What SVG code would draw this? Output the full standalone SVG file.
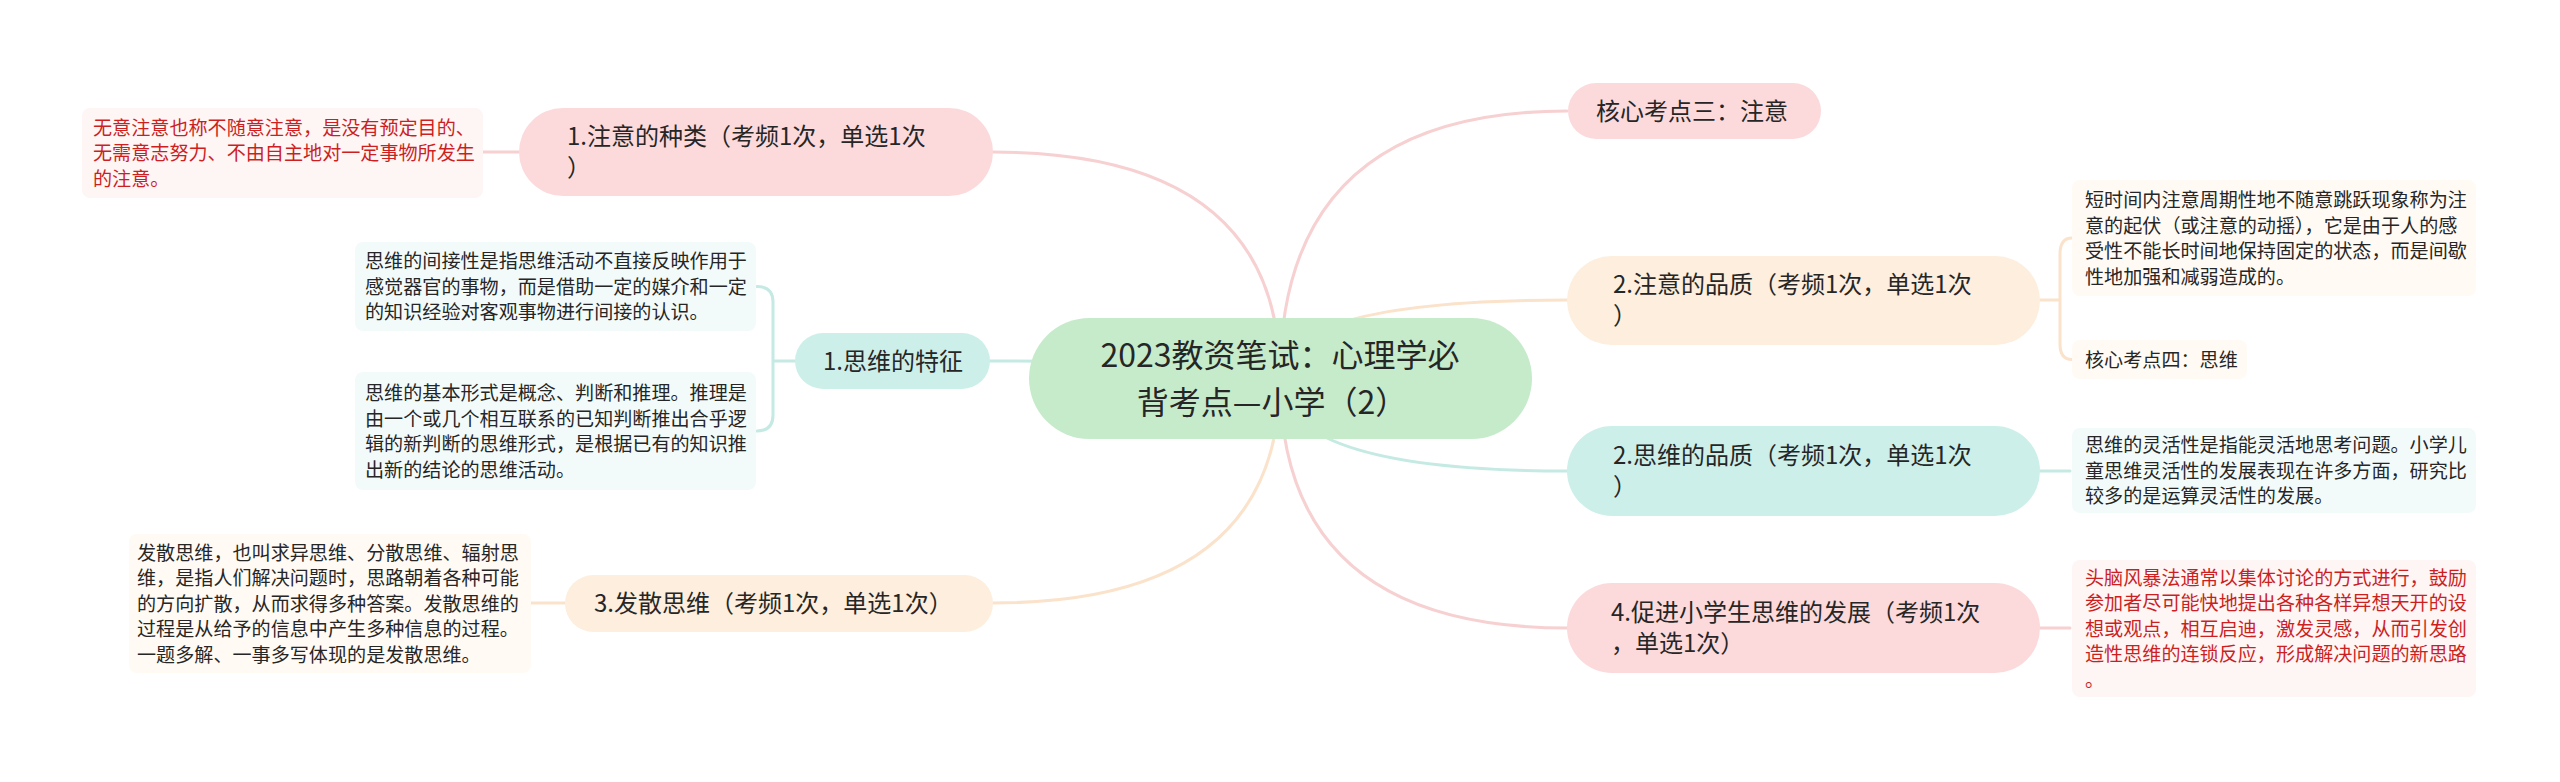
<svg xmlns="http://www.w3.org/2000/svg" width="2560" height="782" viewBox="0 0 2560 782">
<style>
.c{fill:none;stroke-width:3;stroke-linecap:round}
.pk{stroke:#f7d0d1}.tl{stroke:#c4eae3}.pc{stroke:#fbe2cb}
.t{font-family:"Noto Sans CJK SC","Noto Sans",sans-serif;fill:#262626}
.pill{font-size:24px}
.leaf{font-size:19.1px}
.red{fill:#cc1f1f}
.main{font-size:32px}
</style>
<rect width="2560" height="782" fill="#ffffff"/>
<g id="connectors">
<path class="c pk" d="M1280 378 Q1280 152 993 152"/>
<path class="c tl" d="M1280 378 Q1280 361 990 361"/>
<path class="c pc" d="M1280 378 Q1280 603 993 603"/>
<path class="c pk" d="M1280 378 Q1280 111 1567 111"/>
<path class="c pc" d="M1280 378 Q1280 300 1567 300"/>
<path class="c tl" d="M1280 378 Q1280 471 1567 471"/>
<path class="c pk" d="M1280 378 Q1280 628 1567 628"/>
<path class="c pk" d="M519 152 H483"/>
<path class="c tl" d="M795 361 H773 M773 361 V302 Q773 286.5 757 286.5 M773 361 V415 Q773 431 757 431"/>
<path class="c pc" d="M565 603 H531"/>
<path class="c pc" d="M2039 300 H2060 M2060 300 V254 Q2060 238 2072 238 M2060 300 V344 Q2060 359.5 2072 359.5"/>
<path class="c tl" d="M2039 471 H2070"/>
<path class="c pk" d="M2039 628 H2070"/>
</g>
<g id="center">
<rect x="1029" y="318" width="503" height="121" rx="60.5" fill="#c6ebcb"/>
<text class="t main" x="1280" y="367" text-anchor="middle">2023教资笔试：心理学必</text>
<text class="t main" x="1272" y="413.5" text-anchor="middle">背考点—小学（2）</text>
</g>
<g id="n-zhuyi-zhonglei">
<rect x="519" y="108" width="474" height="88" rx="44" fill="#fcdadb"/>
<text class="t pill" x="567" y="145">1.注意的种类（考频1次，单选1次</text>
<text class="t pill" x="567" y="176">）</text>
</g>
<g id="leaf-wuyi">
<rect x="82" y="108" width="401" height="90" rx="8" fill="#fef5f5"/>
<text class="t leaf red" x="93" y="134.5">无意注意也称不随意注意，是没有预定目的、</text>
<text class="t leaf red" x="93" y="160">无需意志努力、不由自主地对一定事物所发生</text>
<text class="t leaf red" x="93" y="185.5">的注意。</text>
</g>
<g id="n-siwei-tezheng">
<rect x="795" y="333" width="195" height="56" rx="28" fill="#cdefe9"/>
<text class="t pill" x="893" y="369.5" text-anchor="middle">1.思维的特征</text>
</g>
<g id="leaf-jianjie">
<rect x="355" y="242" width="401" height="89" rx="8" fill="#f3fbfa"/>
<text class="t leaf" x="365" y="268">思维的间接性是指思维活动不直接反映作用于</text>
<text class="t leaf" x="365" y="293.5">感觉器官的事物，而是借助一定的媒介和一定</text>
<text class="t leaf" x="365" y="319">的知识经验对客观事物进行间接的认识。</text>
</g>
<g id="leaf-jiben">
<rect x="355" y="372" width="401" height="118" rx="8" fill="#f3fbfa"/>
<text class="t leaf" x="365" y="400">思维的基本形式是概念、判断和推理。推理是</text>
<text class="t leaf" x="365" y="425.5">由一个或几个相互联系的已知判断推出合乎逻</text>
<text class="t leaf" x="365" y="451">辑的新判断的思维形式，是根据已有的知识推</text>
<text class="t leaf" x="365" y="476.5">出新的结论的思维活动。</text>
</g>
<g id="n-fasan">
<rect x="565" y="575" width="428" height="57" rx="28.5" fill="#fdeedd"/>
<text class="t pill" x="594" y="612">3.发散思维（考频1次，单选1次）</text>
</g>
<g id="leaf-fasan">
<rect x="129" y="534" width="402" height="139" rx="8" fill="#fffaf4"/>
<text class="t leaf" x="137" y="559.5">发散思维，也叫求异思维、分散思维、辐射思</text>
<text class="t leaf" x="137" y="585">维，是指人们解决问题时，思路朝着各种可能</text>
<text class="t leaf" x="137" y="610.5">的方向扩散，从而求得多种答案。发散思维的</text>
<text class="t leaf" x="137" y="636">过程是从给予的信息中产生多种信息的过程。</text>
<text class="t leaf" x="137" y="661.5">一题多解、一事多写体现的是发散思维。</text>
</g>
<g id="n-kaodian3">
<rect x="1568" y="83" width="253" height="56" rx="28" fill="#fcdadb"/>
<text class="t pill" x="1596" y="119.5">核心考点三：注意</text>
</g>
<g id="n-zhuyi-pinzhi">
<rect x="1567" y="256" width="473" height="89" rx="44.5" fill="#fdeedd"/>
<text class="t pill" x="1613" y="293">2.注意的品质（考频1次，单选1次</text>
<text class="t pill" x="1613" y="324">）</text>
</g>
<g id="leaf-qifu">
<rect x="2072" y="180" width="404" height="116" rx="8" fill="#fffaf4"/>
<text class="t leaf" x="2085" y="207">短时间内注意周期性地不随意跳跃现象称为注</text>
<text class="t leaf" x="2085" y="232.5">意的起伏（或注意的动摇），它是由于人的感</text>
<text class="t leaf" x="2085" y="258">受性不能长时间地保持固定的状态，而是间歇</text>
<text class="t leaf" x="2085" y="283.5">性地加强和减弱造成的。</text>
</g>
<g id="leaf-kaodian4">
<rect x="2072" y="340" width="175" height="39" rx="8" fill="#fffaf4"/>
<text class="t leaf" x="2085" y="366.5">核心考点四：思维</text>
</g>
<g id="n-siwei-pinzhi">
<rect x="1567" y="426" width="473" height="90" rx="45" fill="#cdefe9"/>
<text class="t pill" x="1613" y="464">2.思维的品质（考频1次，单选1次</text>
<text class="t pill" x="1613" y="495">）</text>
</g>
<g id="leaf-linghuo">
<rect x="2072" y="428" width="404" height="85" rx="8" fill="#f3fbfa"/>
<text class="t leaf" x="2085" y="452">思维的灵活性是指能灵活地思考问题。小学儿</text>
<text class="t leaf" x="2085" y="477.5">童思维灵活性的发展表现在许多方面，研究比</text>
<text class="t leaf" x="2085" y="503">较多的是运算灵活性的发展。</text>
</g>
<g id="n-cujin">
<rect x="1567" y="583" width="473" height="90" rx="45" fill="#fcdadb"/>
<text class="t pill" x="1611" y="621">4.促进小学生思维的发展（考频1次</text>
<text class="t pill" x="1611" y="652">，单选1次）</text>
</g>
<g id="leaf-tounao">
<rect x="2072" y="560" width="404" height="137" rx="8" fill="#fef5f5"/>
<text class="t leaf red" x="2085" y="584.5">头脑风暴法通常以集体讨论的方式进行，鼓励</text>
<text class="t leaf red" x="2085" y="610">参加者尽可能快地提出各种各样异想天开的设</text>
<text class="t leaf red" x="2085" y="635.5">想或观点，相互启迪，激发灵感，从而引发创</text>
<text class="t leaf red" x="2085" y="661">造性思维的连锁反应，形成解决问题的新思路</text>
<text class="t leaf red" x="2085" y="686.5">。</text>
</g>
</svg>
